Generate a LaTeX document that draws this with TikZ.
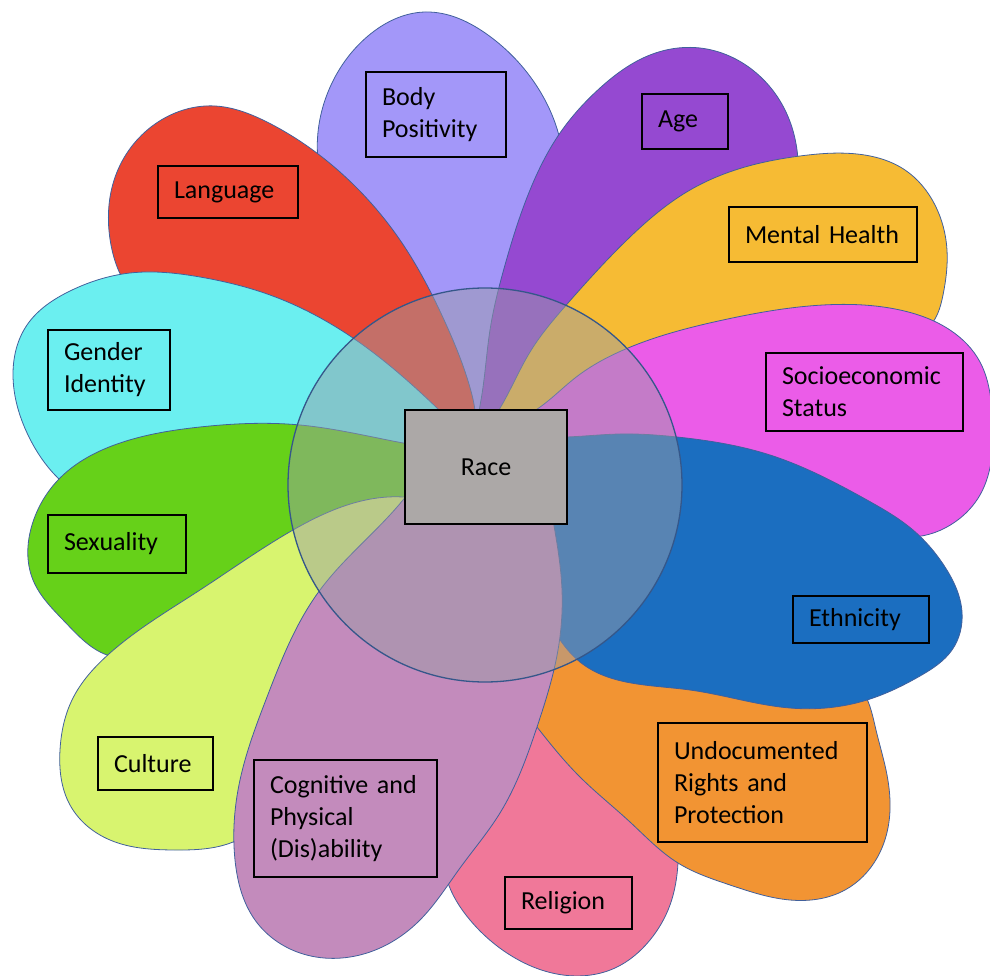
\documentclass[tikz,border=0pt]{standalone}
\usepackage{fontspec}
\setmainfont{Carlito}
\usetikzlibrary{hobby}
\definecolor{cBody}{RGB}{163,151,249}
\definecolor{cLang}{RGB}{235,69,49}
\definecolor{cAge}{RGB}{149,73,209}
\definecolor{cMent}{RGB}{246,187,52}
\definecolor{cSoc}{RGB}{235,92,232}
\definecolor{cEth}{RGB}{27,110,192}
\definecolor{cUnd}{RGB}{242,148,51}
\definecolor{cRel}{RGB}{240,120,153}
\definecolor{cCog}{RGB}{195,139,188}
\definecolor{cCul}{RGB}{216,244,111}
\definecolor{cSex}{RGB}{102,209,25}
\definecolor{cGen}{RGB}{107,239,240}
\definecolor{petalline}{RGB}{65,96,156}
\definecolor{ringline}{RGB}{53,87,138}
\definecolor{ringfill}{RGB}{155,157,166}
\definecolor{racefill}{RGB}{172,168,167}
\begin{document}
\begin{tikzpicture}[x=1pt,y=-1pt,
  petal/.style={draw=petalline, line width=0.8pt},
  lbl/.style={draw=black, line width=1.4pt, inner xsep=16pt, inner ysep=0pt,
    align=left, font=\fontsize{26}{32}\selectfont},
  ring/.style={draw=ringline, line width=1.3pt, fill=ringfill, fill opacity=0.48},
  racebox/.style={draw=black, line width=1.8pt, fill=racefill, align=center,
    font=\fontsize{26}{32}\selectfont, minimum width=162pt, minimum height=114pt}
]
\useasboundingbox (0,0) rectangle (990,976);
% Body Positivity
\draw[petal, fill=cBody] plot[closed hobby] coordinates {
 (318,160) (328,92) (368,36) (425,12) (488,35) (538,88) (562,150)
 (555,280) (490,430) (400,330)};
% Language
\draw[petal, fill=cLang] plot[closed hobby] coordinates {
 (111,245) (117,172) (158,122) (215,106) (267,122) (340,172) (400,240)
 (445,322) (472,395) (462,450) (380,402) (250,322) (140,300)};
% Gender Identity
\draw[petal, fill=cGen] plot[closed hobby] coordinates {
 (60,480) (28,435) (13,375) (27,325) (70,291) (130,273) (200,277)
 (270,295) (353,338) (437,408) (460,450) (330,457) (180,472) (95,500)};
% Sexuality
\draw[petal, fill=cSex] plot[closed hobby] coordinates {
 (403,443) (300,425) (200,427) (120,443) (60,478) (32,525) (33,580)
 (65,622) (107,655) (200,630) (300,565) (400,515) (445,470)};
% Culture
\draw[petal, fill=cCul] plot[closed hobby] coordinates {
 (403,497) (293,530) (200,590) (110,653) (72,700) (60,750) (70,805)
 (110,840) (175,850) (233,842) (300,770) (380,630) (430,505)};
% Age
\draw[petal, fill=cAge] plot[closed hobby] coordinates {
 (481,400) (490,330) (505,265) (530,190) (560,133) (600,88) (650,55)
 (700,48) (750,68) (785,110) (798,160) (780,230) (680,290) (600,370)
 (540,445) (485,445)};
% Mental Health
\draw[petal, fill=cMent] plot[closed hobby] coordinates {
 (530,352) (568,303) (630,237) (690,190) (745,167) (800,156)
 (857,154) (905,170) (935,205) (947,250) (943,295) (933,322) (860,345)
 (740,355) (620,410) (540,468) (470,458) (486,428)};
% Socioeconomic Status
\draw[petal, fill=cSoc] plot[closed hobby] coordinates {
 (575,378) (628,348) (723,320) (823,305) (900,310) (950,330)
 (980,362) (992,410) (992,455) (980,495) (955,522) (913,537) (820,505)
 (700,472) (560,470) (470,450) (520,418)};
% Religion
\draw[petal, fill=cRel] plot[closed hobby] coordinates {
 (447,880) (470,920) (510,955) (563,975) (615,968) (650,940) (670,905)
 (678,863) (670,760) (590,620) (500,680) (450,800)};
% Undocumented Rights and Protection
\draw[petal, fill=cUnd] plot[closed hobby] coordinates {
 (537,727) (580,777) (630,822) (678,863) (730,885) (790,900) (845,890)
 (877,858) (890,810) (886,770) (876,730) (858,685) (780,668) (680,658)
 (560,630) (515,680)};
% Ethnicity
\draw[petal, fill=cEth] plot[closed hobby] coordinates {
 (480,478) (520,442) (567,437) (620,434) (677,437) (770,455) (867,500)
 (913,530) (945,567) (962,612) (952,650) (920,676) (867,700) (790,708)
 (690,690) (580,662) (530,590)};
% Cognitive and Physical (Dis)ability
\draw[petal, fill=cCog] plot[closed hobby] coordinates {
 (460,445) (403,500) (320,590) (267,697) (240,780) (235,860) (255,920)
 (300,953) (367,953) (420,920) (460,868) (500,813) (537,727) (558,650)
 (562,590) (553,520) (530,460)};
% central circle
\draw[ring] (485,485) circle[radius=197];
% center box
\node[racebox] (race) at (486,467) {Race};
% labels
\node[lbl, text width=108pt, minimum height=85pt] (body) at (436,114.5) {Body\\Positivity};
\node[lbl, text width=108pt, minimum height=52pt] (lang) at (228,192) {Language};
\node[lbl, text width=90pt, minimum height=80pt] (gender) at (109,370) {Gender\\Identity};
\node[lbl, text width=106pt, minimum height=58pt] (sex) at (117,544) {Sexuality};
\node[lbl, text width=83pt, minimum height=53pt] (cult) at (155.5,763.5) {Culture};
\node[lbl, text width=151pt, minimum height=117pt] (cog) at (345.5,818.5) {Cognitive and\\Physical\\(Dis)ability};
\node[lbl, text width=95pt, minimum height=52pt] (rel) at (568.5,903) {Religion};
\node[lbl, text width=177pt, minimum height=119pt] (und) at (762.5,782.5) {Undocumented\\Rights and\\Protection};
\node[lbl, text width=104pt, minimum height=47pt] (eth) at (861,619.5) {Ethnicity};
\node[lbl, text width=165pt, minimum height=78pt] (soc) at (864.5,392) {Socioeconomic\\Status};
\node[lbl, text width=156pt, minimum height=55pt] (ment) at (823,234.5) {Mental Health};
\node[lbl, text width=54pt, minimum height=55pt] (age) at (685,121.5) {Age};
\end{tikzpicture}
\end{document}
